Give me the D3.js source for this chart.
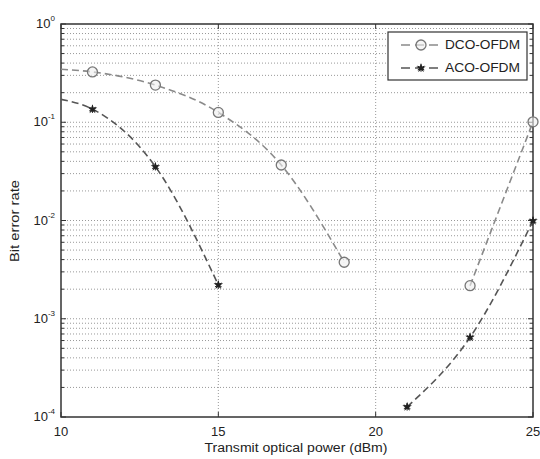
<!DOCTYPE html>
<html><head><meta charset="utf-8">
<script src="https://cdn.jsdelivr.net/npm/d3@7"></script>
<style>body{margin:0;background:#fff}svg{display:block}text{font-family:"Liberation Sans",Arial,sans-serif;fill:#222}</style>
</head><body>
<svg id="c" width="540" height="459"></svg>
<script>
const xTicks = [10, 15, 20, 25];
const yTickExps = [0, -1, -2, -3, -4];
// DCO-OFDM
const dcoX1 = [10, 11, 13, 15, 17, 19];
const dcoY1 = [0.346, 0.325, 0.239, 0.126, 0.0367, 0.00376];
const dcoX2 = [23, 25];
const dcoY2 = [0.00217, 0.101];
const dcoMarkX = [11, 13, 15, 17, 19, 23, 25];
const dcoMarkY = [0.325, 0.239, 0.126, 0.0367, 0.00376, 0.00217, 0.101];
// ACO-OFDM
const acoX1 = [10, 11, 13, 15];
const acoY1 = [0.171, 0.136, 0.0353, 0.00221];
const acoX2 = [21, 23, 25];
const acoY2 = [0.000127, 0.000647, 0.00995];
const acoMarkX = [11, 13, 15, 21, 23, 25];
const acoMarkY = [0.136, 0.0353, 0.00221, 0.000127, 0.000647, 0.00995];
const legendNames = ["DCO-OFDM", "ACO-OFDM"];

const svg = d3.select("#c");
const L = 61, R = 533, T = 24, B = 417;
const x = d3.scaleLinear().domain([10, 25]).range([L, R]);
const y = d3.scaleLog().domain([1e-4, 1]).range([B, T]);

// grid
const g = svg.append("g");
const minor = [];
for (let e = -4; e < 0; e++) for (let k = 2; k <= 9; k++) minor.push(k * Math.pow(10, e));
g.selectAll(".mn").data(minor).enter().append("line")
  .attr("x1", L).attr("x2", R).attr("y1", d => y(d)).attr("y2", d => y(d))
  .attr("stroke", "#999").attr("stroke-width", 1).attr("stroke-dasharray", "1,2");
g.selectAll(".mj").data(yTickExps.slice(1, 4)).enter().append("line")
  .attr("x1", L).attr("x2", R).attr("y1", d => y(Math.pow(10, d))).attr("y2", d => y(Math.pow(10, d)))
  .attr("stroke", "#999").attr("stroke-width", 1).attr("stroke-dasharray", "1,2");
g.selectAll(".vx").data(xTicks.slice(1, 3)).enter().append("line")
  .attr("x1", d => x(d)).attr("x2", d => x(d)).attr("y1", T).attr("y2", B)
  .attr("stroke", "#999").attr("stroke-width", 1).attr("stroke-dasharray", "1,2");

// ticks
const tk = svg.append("g").attr("stroke", "#333");
xTicks.forEach(v => {
  tk.append("line").attr("x1", x(v)).attr("x2", x(v)).attr("y1", B).attr("y2", B - 5);
  tk.append("line").attr("x1", x(v)).attr("x2", x(v)).attr("y1", T).attr("y2", T + 5);
});
minor.forEach(v => {
  tk.append("line").attr("x1", L).attr("x2", L + 3).attr("y1", y(v)).attr("y2", y(v));
  tk.append("line").attr("x1", R).attr("x2", R - 3).attr("y1", y(v)).attr("y2", y(v));
});
yTickExps.forEach(e => {
  const v = Math.pow(10, e);
  tk.append("line").attr("x1", L).attr("x2", L + 5).attr("y1", y(v)).attr("y2", y(v));
  tk.append("line").attr("x1", R).attr("x2", R - 5).attr("y1", y(v)).attr("y2", y(v));
});

// frame
svg.append("rect").attr("x", L).attr("y", T).attr("width", R - L).attr("height", B - T)
  .attr("fill", "none").attr("stroke", "#333").attr("stroke-width", 1.5);

// tick labels
svg.selectAll(".xl").data(xTicks).enter().append("text")
  .attr("x", d => x(d)).attr("y", B + 19).attr("text-anchor", "middle")
  .attr("font-size", 13).text(d => d);
yTickExps.forEach(e => {
  const t = svg.append("text").attr("x", L - 6).attr("y", y(Math.pow(10, e)) + 4)
    .attr("text-anchor", "end").attr("font-size", 13);
  t.append("tspan").text("10");
  t.append("tspan").attr("dy", -7).attr("font-size", 8).text(e);
});

// axis labels
svg.append("text").attr("x", 296).attr("y", 452).attr("text-anchor", "middle")
  .attr("font-size", 12).attr("textLength", 183).attr("lengthAdjust", "spacingAndGlyphs")
  .text("Transmit optical power (dBm)");
svg.append("text").attr("transform", `translate(19,221) rotate(-90)`)
  .attr("text-anchor", "middle").attr("font-size", 12).attr("textLength", 82)
  .attr("lengthAdjust", "spacingAndGlyphs").text("Bit error rate");

// lines
const line = d3.line().x(d => x(d[0])).y(d => y(d[1])).curve(d3.curveMonotoneX);
const zip = (a, b) => a.map((v, i) => [v, b[i]]);
const dcoCol = "#8a8a8a", acoCol = "#555";
[[dcoX1, dcoY1], [dcoX2, dcoY2]].forEach(([a, b]) =>
  svg.append("path").attr("d", line(zip(a, b))).attr("fill", "none")
    .attr("stroke", dcoCol).attr("stroke-width", 1.6).attr("stroke-dasharray", "7,4"));
[[acoX1, acoY1], [acoX2, acoY2]].forEach(([a, b]) =>
  svg.append("path").attr("d", line(zip(a, b))).attr("fill", "none")
    .attr("stroke", acoCol).attr("stroke-width", 1.6).attr("stroke-dasharray", "7,4"));

// markers
function circ(sel, cx, cy) {
  sel.append("circle").attr("cx", cx).attr("cy", cy).attr("r", 5)
    .attr("fill", "#eee").attr("fill-opacity", 0.6).attr("stroke", "#777").attr("stroke-width", 1.3);
}
function star(sel, cx, cy) {
  sel.append("path").attr("transform", `translate(${cx},${cy})`)
    .attr("d", d3.symbol().type(d3.symbolStar).size(28)()).attr("fill", "#222");
  sel.append("path").attr("transform", `translate(${cx},${cy})`)
    .attr("d", d3.symbol().type(d3.symbolAsterisk).size(40)()).attr("stroke", "#222").attr("stroke-width", 1).attr("fill", "none");
}
dcoMarkX.forEach((v, i) => circ(svg, x(v), y(dcoMarkY[i])));
acoMarkX.forEach((v, i) => star(svg, x(v), y(acoMarkY[i])));

// legend
const lg = svg.append("g");
lg.append("rect").attr("x", 388).attr("y", 32).attr("width", 139).attr("height", 48)
  .attr("fill", "#fff").attr("stroke", "#333").attr("stroke-width", 1.2);
[0, 1].forEach(i => {
  const yy = i === 0 ? 45 : 68;
  const col = i === 0 ? dcoCol : acoCol;
  lg.append("line").attr("x1", 401).attr("x2", 441).attr("y1", yy).attr("y2", yy)
    .attr("stroke", col).attr("stroke-width", 1.4).attr("stroke-dasharray", "9,5");
  if (i === 0) circ(lg, 421, yy); else star(lg, 421, yy);
  lg.append("text").attr("x", 445).attr("y", yy + 4).attr("font-size", 12)
    .attr("textLength", 75).attr("lengthAdjust", "spacingAndGlyphs").text(legendNames[i]);
});
</script>
</body></html>
